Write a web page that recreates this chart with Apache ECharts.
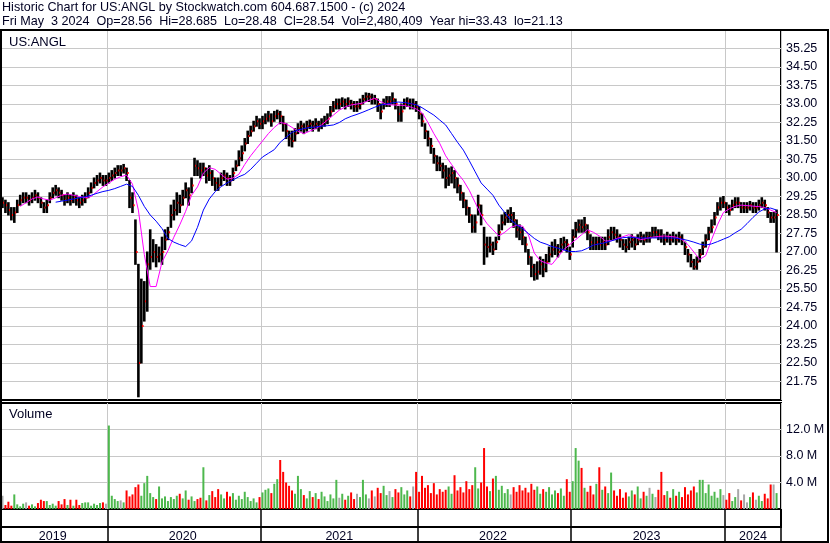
<!DOCTYPE html>
<html><head><meta charset="utf-8">
<script src="https://cdn.jsdelivr.net/npm/echarts@6/dist/echarts.min.js"></script>
<style>html,body{margin:0;padding:0;background:#fff}#c{width:830px;height:543px}</style>
</head><body><div id="c"></div>
<script>
// ---- Data (weekly, Fridays from 2019-04-26 to 2024-05-03) ----
const START_YMD = [2019, 3, 26];
const EXTRA_WEEKS = 1; // blank space after last bar
const HEADER1 = 'Historic Chart for US:ANGL by Stockwatch.com 604.687.1500 - (c) 2024';
const HEADER2 = 'Fri May  3 2024  Op=28.56  Hi=28.685  Lo=28.48  Cl=28.54  Vol=2,480,409  Year hi=33.43  lo=21.13';
const SYMBOL = 'US:ANGL';

const closeP = [
29.0,28.9,28.7,28.5,28.6,28.9,29.1,29.2,29.2,29.1,
29.2,29.3,29.2,29.0,28.8,28.9,29.2,29.4,29.5,29.4,
29.3,29.1,29.2,29.1,29.2,29.1,29.0,29.1,29.2,29.4,
29.6,29.8,29.9,30.0,29.9,29.9,30.0,30.1,30.2,30.3,
30.3,30.4,30.2,29.2,28.9,27.0,22.5,24.0,25.0,26.5,
26.8,27.0,26.8,26.9,27.0,27.5,27.8,28.5,28.7,29.0,
28.9,29.2,29.5,29.3,29.7,30.5,30.4,30.3,30.4,30.1,
30.2,30.0,29.8,29.7,30.0,30.1,30.0,29.9,30.2,30.5,
30.8,31.0,31.4,31.7,31.9,32.1,32.3,32.2,32.3,32.4,
32.5,32.3,32.5,32.6,32.5,32.2,31.9,31.6,31.5,31.8,
32.0,32.1,32.0,32.1,32.2,32.1,32.2,32.1,32.2,32.3,
32.4,32.7,32.9,33.0,33.0,33.1,33.0,33.1,33.0,32.9,
32.9,33.0,33.2,33.3,33.3,33.2,33.2,33.0,32.7,33.0,
33.1,33.1,33.2,33.0,32.6,32.7,33.0,33.1,33.0,33.0,
32.9,32.6,32.3,31.9,31.6,31.3,30.9,30.6,30.5,30.3,
30.0,30.1,30.2,30.0,29.7,29.4,29.1,28.8,28.5,28.0,
28.2,28.9,28.5,27.3,27.2,27.3,27.1,27.4,27.8,28.2,
28.4,28.5,28.5,28.3,27.9,27.8,27.6,27.3,26.8,26.4,
26.1,26.2,26.5,26.3,26.6,26.9,27.1,27.2,27.0,27.3,
27.4,27.3,26.9,27.6,27.9,28.1,28.0,28.1,27.8,27.4,
27.3,27.4,27.3,27.4,27.3,27.6,27.8,27.7,27.6,27.5,
27.3,27.2,27.4,27.5,27.3,27.5,27.6,27.5,27.6,27.6,
27.8,27.8,27.7,27.6,27.5,27.6,27.5,27.6,27.5,27.6,
27.5,27.2,26.9,26.6,26.4,26.6,26.9,27.2,27.5,27.8,
28.0,28.4,28.8,29.0,29.0,28.8,28.7,28.9,29.0,29.0,
28.8,28.8,28.8,28.9,28.8,28.8,28.9,29.0,28.9,28.6,
28.4,28.4,28.5];

const highP = [
29.2,29.1,29.0,28.8,28.8,29.1,29.3,29.4,29.4,29.3,
29.4,29.5,29.4,29.2,29.0,29.1,29.4,29.6,29.7,29.6,
29.5,29.3,29.4,29.3,29.4,29.3,29.2,29.3,29.4,29.6,
29.8,30.0,30.1,30.2,30.1,30.1,30.2,30.3,30.4,30.5,
30.5,30.55,30.4,29.9,29.4,28.3,26.5,25.9,25.8,27.0,
27.9,27.5,27.3,27.2,27.6,27.9,28.0,28.9,29.1,29.4,
29.3,29.5,29.8,29.6,30.0,30.8,30.7,30.6,30.6,30.4,
30.5,30.3,30.0,30.0,30.2,30.3,30.2,30.1,30.4,30.7,
31.1,31.3,31.6,31.9,32.1,32.3,32.5,32.4,32.5,32.6,
32.7,32.6,32.7,32.75,32.7,32.5,32.2,31.9,31.9,32.0,
32.2,32.3,32.2,32.3,32.35,32.3,32.4,32.3,32.4,32.5,
32.6,32.9,33.1,33.2,33.2,33.25,33.2,33.25,33.15,33.1,
33.1,33.2,33.35,33.45,33.43,33.4,33.35,33.2,33.0,33.2,
33.3,33.3,33.45,33.2,32.9,33.0,33.2,33.25,33.2,33.2,
33.1,32.9,32.6,32.2,31.9,31.6,31.2,30.9,30.85,30.6,
30.5,30.4,30.45,30.3,30.0,29.7,29.4,29.1,28.8,28.5,
28.5,29.3,28.9,28.0,27.6,27.6,27.4,27.6,28.1,28.5,
28.6,28.7,28.8,28.6,28.3,28.1,28.0,27.6,27.1,26.8,
26.5,26.6,26.8,26.7,26.9,27.2,27.4,27.5,27.3,27.55,
27.6,27.5,27.2,27.9,28.2,28.3,28.3,28.4,28.1,27.7,
27.6,27.6,27.6,27.6,27.6,27.9,28.0,28.0,27.9,27.7,
27.5,27.5,27.6,27.7,27.6,27.7,27.8,27.7,27.8,27.8,
28.0,28.0,27.9,27.9,27.7,27.8,27.7,27.8,27.7,27.8,
27.7,27.4,27.1,26.9,26.7,26.8,27.1,27.4,27.7,28.0,
28.3,28.6,29.0,29.2,29.25,29.0,28.9,29.1,29.2,29.2,
29.0,29.0,29.0,29.05,29.0,29.0,29.1,29.2,29.1,28.8,
28.6,28.6,28.7];

const lowP = [
28.8,28.6,28.5,28.3,28.2,28.6,28.9,29.0,29.0,28.9,
29.0,29.1,29.0,28.8,28.6,28.6,29.0,29.2,29.3,29.2,
29.1,28.9,29.0,28.9,29.0,28.9,28.8,28.9,29.0,29.2,
29.4,29.6,29.7,29.8,29.7,29.7,29.8,29.9,30.0,30.1,
30.1,30.2,29.9,28.8,28.6,26.5,21.13,22.5,24.2,24.6,
26.3,26.6,26.4,26.6,26.5,27.1,27.5,28.0,28.3,28.5,
28.6,28.9,29.2,28.9,29.4,30.1,30.1,30.0,30.1,29.8,
29.9,29.7,29.5,29.5,29.7,29.9,29.7,29.7,29.9,30.3,
30.5,30.7,31.1,31.4,31.7,31.9,32.1,32.0,32.0,32.2,
32.3,32.1,32.3,32.4,32.2,31.9,31.6,31.3,31.26,31.5,
31.8,31.9,31.8,31.9,32.0,31.9,32.0,31.9,32.0,32.1,
32.2,32.5,32.7,32.8,32.8,32.9,32.8,32.9,32.8,32.7,
32.7,32.8,33.0,33.1,33.1,33.0,33.0,32.7,32.4,32.8,
32.9,32.9,33.0,32.8,32.3,32.3,32.8,32.9,32.8,32.8,
32.7,32.4,32.1,31.6,31.3,31.0,30.6,30.3,30.3,30.0,
29.6,29.7,29.8,29.6,29.4,29.1,28.8,28.5,28.2,27.8,
27.8,28.5,28.1,26.5,26.8,27.0,26.9,27.1,27.5,27.9,
28.1,28.2,28.2,28.0,27.6,27.5,27.3,27.0,26.5,26.0,
25.86,25.9,26.1,26.0,26.2,26.6,26.8,26.9,26.8,27.0,
27.1,27.0,26.7,27.2,27.6,27.8,27.8,27.8,27.5,27.1,
27.1,27.1,27.1,27.1,27.1,27.3,27.5,27.5,27.4,27.2,
27.1,27.0,27.1,27.2,27.1,27.3,27.4,27.3,27.4,27.4,
27.6,27.6,27.5,27.4,27.3,27.4,27.3,27.4,27.3,27.4,
27.3,26.9,26.6,26.4,26.3,26.3,26.6,26.9,27.2,27.5,
27.8,28.1,28.5,28.7,28.8,28.6,28.5,28.7,28.8,28.8,
28.6,28.6,28.6,28.7,28.6,28.6,28.7,28.8,28.7,28.4,
28.2,28.2,27.0];

// volume in millions of shares
const volumeM = [
2.0,0.6,1.1,0.5,2.2,0.7,0.4,0.8,1.0,0.5,
0.7,0.4,0.9,1.4,1.2,1.2,0.6,0.8,0.5,1.2,
0.7,1.5,0.6,1.4,0.5,1.4,0.6,0.9,1.0,1.0,
0.5,0.8,0.6,0.9,1.0,0.8,12.6,2.0,1.5,1.2,
1.3,1.0,2.8,1.9,2.2,3.3,3.7,2.0,3.9,5.0,
2.4,1.8,1.5,3.4,1.6,1.9,1.2,1.8,1.5,2.0,
2.3,1.6,2.8,1.4,1.9,1.2,1.5,1.7,6.3,1.3,
2.1,2.7,1.8,3.0,2.2,1.6,2.6,1.9,2.4,1.4,
2.0,1.5,2.6,1.8,1.2,1.6,1.0,1.8,2.5,2.9,
3.1,2.4,3.8,4.5,7.4,5.6,4.0,3.5,2.8,2.3,
5.0,3.0,2.1,1.6,2.7,1.8,2.4,1.5,2.6,1.9,
1.2,2.2,1.6,4.4,1.7,2.3,1.4,2.0,2.5,1.5,
2.3,1.8,4.4,2.2,1.6,2.8,1.9,3.2,2.4,3.5,
2.1,2.7,1.8,3.0,2.5,3.3,2.2,2.8,1.9,3.4,
5.6,2.6,5.0,3.2,3.6,2.4,3.9,2.2,3.0,2.6,
2.9,3.4,2.3,5.1,2.8,3.3,2.5,4.2,3.0,3.6,
6.3,3.1,4.0,9.2,3.4,2.7,4.6,5.0,2.9,3.5,
2.4,3.0,2.2,3.3,2.6,3.6,2.8,3.2,2.5,3.8,
2.9,3.4,2.3,3.0,2.6,3.3,2.2,2.8,2.4,3.1,
2.0,4.5,2.6,4.2,9.2,7.3,6.2,3.2,2.6,3.5,
2.2,3.8,6.3,2.9,3.4,2.4,5.5,2.8,2.0,3.0,
1.7,2.5,1.9,2.8,2.2,3.4,1.6,2.6,2.0,3.2,
2.3,1.8,2.9,5.6,2.1,2.7,1.7,3.0,2.0,2.6,
1.8,3.3,2.2,2.8,3.4,2.5,4.4,4.4,2.4,3.7,
2.0,2.6,1.7,3.0,2.1,1.4,2.4,1.2,1.8,3.0,
1.3,2.2,1.0,1.8,2.5,1.4,2.0,1.2,2.3,1.6,
3.7,3.7,2.4];

// moving averages read every 2nd week (index 0,2,4,...)
const MA_STEP = 2;
const maFast = [
null,null,null,28.85,29.0,29.15,29.23,29.15,29.1,29.2,
29.3,29.35,29.3,29.25,29.2,29.25,29.45,29.64,29.8,29.95,
30.05,30.12,29.75,28.7,26.9,25.6,25.6,26.6,27.05,27.6,
28.1,28.65,29.3,29.64,30.2,30.42,30.35,30.15,29.95,30.0,
30.15,30.55,30.9,31.2,31.5,31.8,32.05,32.25,32.2,32.05,
31.9,31.8,31.9,32.0,32.15,32.35,32.55,32.75,32.88,32.96,
33.0,33.04,33.15,33.23,33.1,32.98,32.96,32.96,32.94,32.88,
32.8,32.65,32.25,31.8,31.4,30.9,30.55,30.2,29.9,29.5,
29.0,28.5,28.15,27.9,27.65,27.8,28.0,28.08,28.05,27.7,
26.96,26.65,26.55,26.5,26.8,27.1,27.3,27.5,27.7,27.9,
27.8,27.65,27.45,27.45,27.55,27.62,27.7,27.6,27.5,27.55,
27.6,27.63,27.65,27.63,27.6,27.5,27.3,27.0,26.7,26.85,
27.5,28.1,28.6,28.75,28.85,28.9,28.88,28.86,28.84,28.8,
28.7,28.6];
const maSlow = [
null,null,null,null,null,null,null,null,null,29.02,
29.06,29.1,29.15,29.2,29.24,29.3,29.38,29.45,29.5,29.57,
29.66,29.75,29.66,29.3,28.85,28.5,28.25,27.95,27.55,27.4,
27.3,27.22,27.45,28.0,28.7,29.15,29.45,29.65,29.8,29.92,
30.05,30.15,30.35,30.6,30.85,31.0,31.15,31.45,31.65,31.85,
31.95,32.0,32.05,32.07,32.1,32.12,32.15,32.25,32.4,32.5,
32.58,32.67,32.77,32.87,32.96,33.0,33.05,33.08,33.06,33.02,
32.97,32.85,32.7,32.55,32.35,32.15,31.8,31.45,31.13,30.7,
30.25,29.8,29.55,29.3,28.9,28.6,28.3,28.1,27.95,27.75,
27.55,27.4,27.32,27.22,27.16,27.08,27.02,27.02,27.05,27.15,
27.28,27.33,27.38,27.45,27.52,27.58,27.6,27.58,27.57,27.57,
27.57,27.57,27.57,27.57,27.56,27.52,27.47,27.4,27.32,27.28,
27.33,27.42,27.52,27.62,27.78,27.92,28.15,28.4,28.62,28.75,
28.78,28.7];

// axis ticks
const PRICE_MIN = 21, PRICE_MAX = 36, PRICE_STEP = 0.75;
const VOL_MIN = 0, VOL_MAX = 16e6, VOL_STEP = 4e6;

// ---- Build ----
const N = closeP.length;
const cats = [];
const t0 = Date.UTC(START_YMD[0], START_YMD[1], START_YMD[2]);
for (let i = 0; i < N + EXTRA_WEEKS; i++) {
  cats.push(new Date(t0 + i * 7 * 864e5).toISOString().slice(0, 10));
}
const yearOf = i => cats[i] ? cats[i].slice(0, 4) : null;
const isYearStart = (i) => i > 0 && i < cats.length && yearOf(i) !== yearOf(i - 1);
const yearSpan = {};
cats.forEach((c, i) => { const y = c.slice(0, 4); if (!yearSpan[y]) yearSpan[y] = [i, i]; yearSpan[y][1] = i; });
const labelIdx = new Set(Object.values(yearSpan).map(s => Math.floor((s[0] + s[1]) / 2)));

const spread = (arr, step) => { const out = new Array(N).fill(null); arr.forEach((v, k) => { if (k * step < N) out[k * step] = v; }); return out; };

const FONT = 'Arial, "Liberation Sans", sans-serif';
const TXT = '#000022';
const GRID_C = '#c8c8c8';

const hiddenX = (gi) => ({
  type: 'category', gridIndex: gi, data: cats, boundaryGap: true,
  axisLine: { show: false }, axisTick: { show: false }, axisLabel: { show: false },
  splitLine: { show: true, interval: (i) => isYearStart(i), lineStyle: { color: GRID_C, width: 1 } }
});

const volColor = (i) => {
  if (i === 0) return '#a8a8a8';
  if (closeP[i] > closeP[i - 1]) return '#4db84d';
  if (closeP[i] < closeP[i - 1]) return '#ff0000';
  return '#a8a8a8';
};

const chart = echarts.init(document.getElementById('c'), null, { renderer: 'canvas' });
chart.setOption({
  animation: false,
  backgroundColor: '#fff',
  title: [
    { text: HEADER1 + '\n' + HEADER2, left: 2, top: 1, padding: 0,
      textStyle: { fontSize: 12.6, fontWeight: 'normal', color: TXT, fontFamily: FONT, lineHeight: 14 } },
    { text: SYMBOL, left: 9, top: 35, padding: 0,
      textStyle: { fontSize: 13, fontWeight: 'normal', color: TXT, fontFamily: FONT, lineHeight: 14 } },
    { text: 'Volume', left: 9, top: 407, padding: 0,
      textStyle: { fontSize: 13, fontWeight: 'normal', color: TXT, fontFamily: FONT, lineHeight: 14 } }
  ],
  grid: [
    { left: 1, top: 30, width: 780, height: 370, show: true, borderColor: '#000', borderWidth: 2 },
    { left: 1, top: 403, width: 780, height: 106, show: true, borderColor: '#000', borderWidth: 2 },
    { left: 1, top: 509, width: 780, height: 18, show: true, borderColor: '#000', borderWidth: 2 }
  ],
  xAxis: [
    hiddenX(0),
    hiddenX(1),
    {
      type: 'category', gridIndex: 2, data: cats, boundaryGap: true, position: 'bottom',
      axisLine: { show: true, lineStyle: { color: '#000', width: 2 } },
      axisTick: { show: true, interval: (i) => isYearStart(i), length: 15, lineStyle: { color: '#000', width: 1.5 } },
      axisLabel: { show: true, interval: (i) => labelIdx.has(i), formatter: v => v.slice(0, 4), margin: 3,
        fontSize: 12.5, color: TXT, fontFamily: FONT },
      splitLine: { show: true, interval: (i) => isYearStart(i), lineStyle: { color: '#000', width: 1.5 } }
    }
  ],
  yAxis: [
    { type: 'value', gridIndex: 0, position: 'right', min: PRICE_MIN, max: PRICE_MAX, interval: PRICE_STEP,
      axisLine: { show: false }, axisTick: { show: false },
      splitLine: { show: true, showMinLine: false, showMaxLine: false, lineStyle: { color: GRID_C, width: 1 } },
      axisLabel: { showMinLabel: false, showMaxLabel: false, formatter: v => v.toFixed(2), margin: 5,
        fontSize: 12.5, color: TXT, fontFamily: FONT } },
    { type: 'value', gridIndex: 1, position: 'right', min: VOL_MIN, max: VOL_MAX, interval: VOL_STEP,
      axisLine: { show: false }, axisTick: { show: false },
      splitLine: { show: true, showMinLine: false, showMaxLine: false, lineStyle: { color: GRID_C, width: 1 } },
      axisLabel: { showMinLabel: false, showMaxLabel: false, formatter: v => (v / 1e6).toFixed(1) + ' M', margin: 5,
        fontSize: 12.5, color: TXT, fontFamily: FONT } },
    { type: 'value', gridIndex: 2, show: false }
  ],
  series: [
    {
      type: 'custom', name: 'price', xAxisIndex: 0, yAxisIndex: 0, clip: true, z: 2,
      data: closeP.map((c, i) => [i, highP[i], lowP[i], c]),
      encode: { x: 0, y: [1, 2, 3] },
      renderItem: (params, api) => {
        const i = api.value(0);
        const hi = api.coord([i, api.value(1)]);
        const lo = api.coord([i, api.value(2)]);
        const cl = api.coord([i, api.value(3)]);
        return { type: 'group', children: [
          { type: 'line', shape: { x1: hi[0], y1: hi[1] - 0.5, x2: lo[0], y2: lo[1] + 0.5 }, style: { stroke: '#000', lineWidth: 2.6 } },
          { type: 'rect', shape: { x: cl[0] + 0.6, y: cl[1] - 1, width: 1.6, height: 2 }, style: { fill: '#ff0000' } }
        ] };
      }
    },
    { type: 'line', name: 'maFast', xAxisIndex: 0, yAxisIndex: 0, data: spread(maFast, MA_STEP), connectNulls: true,
      showSymbol: false, symbol: 'none', z: 3, lineStyle: { color: '#ff00ff', width: 1 } },
    { type: 'line', name: 'maSlow', xAxisIndex: 0, yAxisIndex: 0, data: spread(maSlow, MA_STEP), connectNulls: true,
      showSymbol: false, symbol: 'none', z: 3, lineStyle: { color: '#0000ff', width: 1 } },
    { type: 'bar', name: 'volume', xAxisIndex: 1, yAxisIndex: 1, barWidth: 2,
      data: volumeM.map((v, i) => ({ value: v * 1e6, itemStyle: { color: volColor(i) } })) }
  ],
  graphic: [
    { type: 'rect', silent: true, z: 100, shape: { x: 1, y: 30, width: 827, height: 512 },
      style: { fill: 'none', stroke: '#000', lineWidth: 2 } }
  ]
});
</script></body></html>
